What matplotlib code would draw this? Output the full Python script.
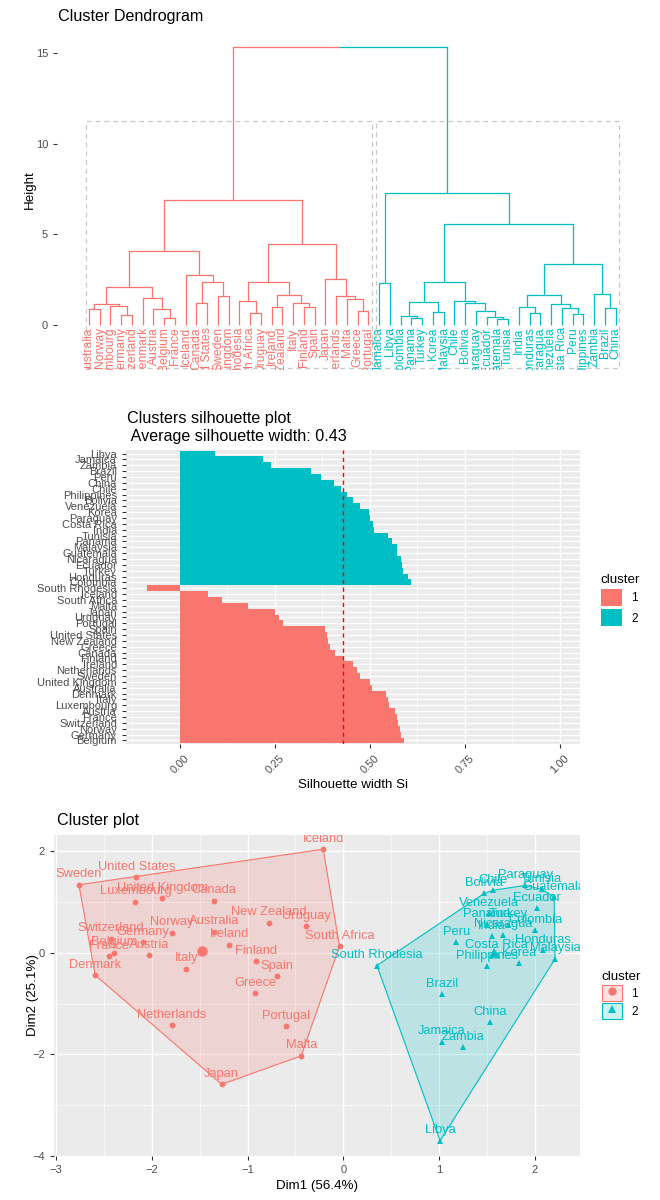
import numpy as np
import matplotlib
matplotlib.use("Agg")
import matplotlib.pyplot as plt
from matplotlib.patches import Rectangle, Polygon, Patch
from matplotlib.lines import Line2D
from matplotlib.legend_handler import HandlerTuple

plt.rcParams['font.family'] = ['Liberation Sans', 'DejaVu Sans']

RED = '#F8766D'
CYAN = '#00BFC4'
BG = '#EBEBEB'
TXT = '#4D4D4D'
TCK = '#333333'
COLORS = {1: RED, 2: CYAN}

# ---------------- Dendrogram data ----------------
leaf_order = ['Australia', 'Norway', 'Luxembourg', 'Germany', 'Switzerland', 'Denmark',
              'Austria', 'Belgium', 'France', 'Iceland', 'Canada', 'United States',
              'Sweden', 'United Kingdom', 'South Rhodesia', 'South Africa', 'Uruguay',
              'Ireland', 'New Zealand', 'Italy', 'Finland', 'Spain', 'Japan',
              'Netherlands', 'Malta', 'Greece', 'Portugal',
              'Jamaica', 'Libya', 'Colombia', 'Panama', 'Turkey', 'Korea', 'Malaysia',
              'Chile', 'Bolivia', 'Paraguay', 'Ecuador', 'Guatemala', 'Tunisia', 'India',
              'Honduras', 'Nicaragua', 'Venezuela', 'Costa Rica', 'Peru', 'Philippines',
              'Zambia', 'Brazil', 'China']
leaf_cluster = [1] * 27 + [2] * 23

# (left, right, height); integers refer to earlier merges
merges = [
    ('Australia', 'Norway', 0.86),          # 0
    ('Germany', 'Switzerland', 0.55),       # 1
    ('Luxembourg', 1, 1.07),                # 2
    (0, 2, 1.16),                           # 3
    ('Belgium', 'France', 0.40),            # 4
    ('Austria', 4, 0.86),                   # 5
    ('Denmark', 5, 1.47),                   # 6
    (3, 6, 2.11),                           # 7
    ('Canada', 'United States', 1.19),      # 8
    ('Sweden', 'United Kingdom', 1.62),     # 9
    (8, 9, 2.39),                           # 10
    ('Iceland', 10, 2.76),                  # 11
    (7, 11, 4.06),                          # 12
    ('South Africa', 'Uruguay', 0.68),      # 13
    ('South Rhodesia', 13, 1.34),           # 14
    ('Ireland', 'New Zealand', 1.01),       # 15
    ('Finland', 'Spain', 1.01),             # 16
    ('Italy', 16, 1.19),                    # 17
    (15, 17, 1.65),                         # 18
    (14, 18, 2.39),                         # 19
    ('Greece', 'Portugal', 0.79),           # 20
    ('Malta', 20, 1.42),                    # 21
    ('Netherlands', 21, 1.60),              # 22
    ('Japan', 22, 2.52),                    # 23
    (19, 23, 4.47),                         # 24
    (12, 24, 6.92),                         # 25
    ('Jamaica', 'Libya', 2.33),             # 26
    ('Panama', 'Turkey', 0.37),             # 27
    ('Colombia', 27, 0.51),                 # 28
    ('Korea', 'Malaysia', 0.70),            # 29
    (28, 29, 1.29),                         # 30
    ('Guatemala', 'Tunisia', 0.31),         # 31
    ('Ecuador', 31, 0.46),                  # 32
    ('Paraguay', 32, 0.79),                 # 33
    ('Bolivia', 33, 1.23),                  # 34
    ('Chile', 34, 1.34),                    # 35
    (30, 35, 2.39),                         # 36
    ('Honduras', 'Nicaragua', 0.64),        # 37
    ('India', 37, 0.98),                    # 38
    ('Peru', 'Philippines', 0.59),          # 39
    ('Costa Rica', 39, 0.92),               # 40
    ('Venezuela', 40, 1.14),                # 41
    (38, 41, 1.65),                         # 42
    ('Brazil', 'China', 0.92),              # 43
    ('Zambia', 43, 1.71),                   # 44
    (42, 44, 3.35),                         # 45
    (36, 45, 5.55),                         # 46
    (26, 46, 7.26),                         # 47
    (25, 47, 15.33),                        # 48
]
rect_top = 11.27
dend_yticks = [0, 5, 10, 15]

# ---------------- Silhouette data (top to bottom) ----------------
sil_names = ['Libya', 'Jamaica', 'Zambia', 'Brazil', 'Peru', 'China', 'Chile', 'Philippines',
             'Bolivia', 'Venezuela', 'Korea', 'Paraguay', 'Costa Rica', 'India', 'Tunisia',
             'Panama', 'Malaysia', 'Guatemala', 'Nicaragua', 'Ecuador', 'Turkey', 'Honduras',
             'Colombia',
             'South Rhodesia', 'Iceland', 'South Africa', 'Malta', 'Japan', 'Uruguay',
             'Portugal', 'Spain', 'United States', 'New Zealand', 'Greece', 'Canada',
             'Finland', 'Ireland', 'Netherlands', 'Sweden', 'United Kingdom', 'Australia',
             'Denmark', 'Italy', 'Luxembourg', 'Austria', 'France', 'Switzerland', 'Norway',
             'Germany', 'Belgium']
sil_values = [0.092, 0.219, 0.239, 0.346, 0.371, 0.405, 0.425, 0.441, 0.456, 0.474,
              0.497, 0.500, 0.507, 0.511, 0.548, 0.559, 0.570, 0.572, 0.583, 0.585,
              0.588, 0.599, 0.607,
              -0.086, 0.075, 0.112, 0.178, 0.250, 0.261, 0.272, 0.382, 0.386, 0.390,
              0.396, 0.408, 0.432, 0.456, 0.467, 0.474, 0.500, 0.506, 0.542, 0.548,
              0.551, 0.566, 0.570, 0.573, 0.579, 0.583, 0.590]
sil_cluster = [2] * 23 + [1] * 27
sil_avg = 0.43
sil_xticks = [0.0, 0.25, 0.5, 0.75, 1.0]

# ---------------- Cluster plot data ----------------
pca_names = ['Iceland', 'Sweden', 'United States', 'United Kingdom', 'Luxembourg', 'Canada',
             'New Zealand', 'Uruguay', 'South Africa', 'Norway', 'Australia', 'Ireland',
             'Switzerland', 'Belgium', 'France', 'Germany', 'Austria', 'Denmark', 'Italy',
             'Finland', 'Spain', 'Greece', 'Netherlands', 'Portugal', 'Malta', 'Japan',
             'South Rhodesia', 'Bolivia', 'Chile', 'Paraguay', 'Tunisia', 'Guatemala',
             'Ecuador', 'Venezuela', 'Panama', 'Turkey', 'Nicaragua', 'India', 'Colombia',
             'Peru', 'Costa Rica', 'Philippines', 'Korea', 'Honduras', 'Malaysia', 'Brazil',
             'China', 'Jamaica', 'Zambia', 'Libya']
dim1 = [-0.21, -2.76, -2.16, -1.89, -2.17, -1.35, -0.78, -0.39, -0.04, -1.79, -1.35, -1.19,
        -2.43, -2.39, -2.45, -2.09, -2.03, -2.59, -1.64, -0.91, -0.69, -0.92, -1.79, -0.60,
        -0.44, -1.27,
        0.35, 1.47, 1.56, 1.90, 2.07, 2.20, 2.02, 1.52, 1.50, 1.72, 1.67, 1.55, 2.00,
        1.18, 1.60, 1.50, 1.83, 2.08, 2.21, 1.03, 1.53, 1.03, 1.25, 1.01]
dim2 = [2.04, 1.34, 1.49, 1.07, 1.01, 1.03, 0.59, 0.52, 0.13, 0.40, 0.42, 0.16,
        0.28, 0.00, -0.07, 0.21, -0.05, -0.44, -0.31, -0.17, -0.46, -0.79, -1.42, -1.45,
        -2.03, -2.59,
        -0.25, 1.17, 1.23, 1.33, 1.25, 1.10, 0.88, 0.78, 0.55, 0.55, 0.36, 0.33, 0.44,
        0.21, -0.05, -0.26, -0.20, 0.05, -0.12, -0.82, -1.37, -1.75, -1.86, -3.70]
pca_cluster = [1] * 26 + [2] * 24
pca_xticks = [-3, -2, -1, 0, 1, 2]
pca_yticks = [-4, -2, 0, 2]

# ---------------- Figure ----------------
W, H = 660, 1200
fig = plt.figure(figsize=(W / 100, H / 100), dpi=100)


def box(l, t, r, b):
    return [l / W, 1 - b / H, (r - l) / W, (b - t) / H]


def fx(x):
    return x / W


def fy(y):
    return 1 - y / H


def gg_ticks(ax):
    ax.tick_params(colors=TCK, labelcolor=TXT, labelsize=8, length=3, width=0.8)


# ===== Panel 1: dendrogram =====
ax1 = fig.add_axes(box(57, 38, 650, 370))
pos = {n: i + 1 for i, n in enumerate(leaf_order)}
clus = dict(zip(leaf_order, leaf_cluster))
node_x, node_h, node_c = [], [], []


def child(ref):
    if isinstance(ref, str):
        return pos[ref], 0.0, clus[ref]
    return node_x[ref], node_h[ref], node_c[ref]


LW = 0.9
for a, b, h in merges:
    xa, ha, ca = child(a)
    xb, hb, cb = child(b)
    xm = (xa + xb) / 2
    ax1.plot([xa, xa], [ha, h], color=COLORS[ca], lw=LW, solid_capstyle='butt')
    ax1.plot([xb, xb], [hb, h], color=COLORS[cb], lw=LW, solid_capstyle='butt')
    if ca == cb:
        ax1.plot([xa, xb], [h, h], color=COLORS[ca], lw=LW)
    else:
        ax1.plot([xa, xm], [h, h], color=COLORS[ca], lw=LW)
        ax1.plot([xm, xb], [h, h], color=COLORS[cb], lw=LW)
    node_x.append(xm)
    node_h.append(h)
    node_c.append(ca)

for n in leaf_order:
    ax1.text(pos[n], -0.12, n, rotation=90, ha='center', va='top', fontsize=8.7,
             color=COLORS[clus[n]], clip_on=True)

for k in (1, 2):
    idx = [pos[n] for n in leaf_order if clus[n] == k]
    x0, x1 = min(idx) - 0.3, max(idx) + 0.35
    ax1.add_patch(Rectangle((x0, -2.38), x1 - x0, rect_top + 2.38, fill=False,
                            edgecolor='#C8C8C8', lw=0.9, ls=(0, (4, 3))))

ax1.set_xlim(1 - (89 - 57) / 10.75, 50 + (650 - 615.7) / 10.75)
ax1.set_ylim(-2.48, 15.83)
ax1.set_yticks(dend_yticks)
ax1.set_xticks([])
for s in ax1.spines.values():
    s.set_visible(False)
gg_ticks(ax1)
fig.text(fx(58), fy(17), 'Cluster Dendrogram', fontsize=11.6, ha='left', va='center')
fig.text(fx(30), fy(190), 'Height', fontsize=9.6, rotation=90, ha='center', va='center')

# ===== Panel 2: silhouette =====
ax2 = fig.add_axes(box(126, 450, 580, 744))
ax2.set_facecolor(BG)
n_s = len(sil_names)
ypos = np.arange(n_s, 0, -1)
ax2.set_axisbelow(True)
ax2.barh(ypos, sil_values, height=1.0, color=[COLORS[c] for c in sil_cluster], lw=0)
ax2.axvline(sil_avg, color='#FF0000', ls=(0, (3, 2.5)), lw=1.0)
ax2.set_xlim(-0.142, 1.053)
ax2.set_ylim(0.4, n_s + 0.6)
ax2.set_yticks(ypos)
ax2.set_yticklabels(sil_names)
ax2.set_xticks(sil_xticks)
ax2.set_xticklabels(['%.2f' % v for v in sil_xticks], rotation=45, ha='center', va='top')
ax2.set_xticks([-0.125, 0.125, 0.375, 0.625, 0.875], minor=True)
ax2.grid(True, which='major', color='white', lw=1.0)
ax2.grid(True, which='minor', axis='x', color='white', lw=0.5)
ax2.tick_params(which='minor', length=0)
for s in ax2.spines.values():
    s.set_visible(False)
gg_ticks(ax2)
fig.text(fx(127), fy(418), 'Clusters silhouette plot', fontsize=11.6, ha='left', va='center')
fig.text(fx(127), fy(436), ' Average silhouette width: 0.43', fontsize=11.6, ha='left', va='center')
fig.text(fx(353), fy(785), 'Silhouette width Si', fontsize=9.6, ha='center', va='center')
fig.legend(handles=[Patch(facecolor=RED), Patch(facecolor=CYAN)], labels=['1', '2'],
           title='cluster', loc='upper left', bbox_to_anchor=(fx(590), fy(563)),
           frameon=False, fontsize=8.5, title_fontsize=9.6, handlelength=1.8,
           handleheight=1.8, labelspacing=0.3, handletextpad=0.8, alignment='left')

# ===== Panel 3: cluster plot =====
ax3 = fig.add_axes(box(54, 835, 580, 1156))
ax3.set_facecolor(BG)
ax3.set_axisbelow(True)
d1 = np.array(dim1)
d2 = np.array(dim2)
cl = np.array(pca_cluster)


def convex_hull(pts):
    pts = sorted(map(tuple, pts))

    def cross(o, a, b):
        return (a[0] - o[0]) * (b[1] - o[1]) - (a[1] - o[1]) * (b[0] - o[0])
    lower, upper = [], []
    for p in pts:
        while len(lower) >= 2 and cross(lower[-2], lower[-1], p) <= 0:
            lower.pop()
        lower.append(p)
    for p in reversed(pts):
        while len(upper) >= 2 and cross(upper[-2], upper[-1], p) <= 0:
            upper.pop()
        upper.append(p)
    return lower[:-1] + upper[:-1]


markers = {1: 'o', 2: '^'}
for k in (1, 2):
    m = cl == k
    hull = convex_hull(np.column_stack([d1[m], d2[m]]))
    ax3.add_patch(Polygon(hull, closed=True, facecolor=COLORS[k], alpha=0.2, lw=0))
    ax3.add_patch(Polygon(hull, closed=True, fill=False, edgecolor=COLORS[k], lw=0.8))
    ax3.plot(d1[m], d2[m], ls='none', marker=markers[k], color=COLORS[k], ms=4.2, mew=0)
    ax3.plot([d1[m].mean()], [d2[m].mean()], ls='none', marker=markers[k],
             color=COLORS[k], ms=7.5, mew=0)

for n, x, y, k in zip(pca_names, d1, d2, cl):
    ax3.annotate(n, (x, y), xytext=(0, 3.2), textcoords='offset points', ha='center',
                 va='bottom', fontsize=9.3, color=COLORS[k], annotation_clip=False,
                 clip_on=True)

ax3.set_xlim(-3.02, 2.47)
ax3.set_ylim(-3.98, 2.32)
ax3.set_xticks(pca_xticks)
ax3.set_yticks(pca_yticks)
ax3.set_xticks([-2.5, -1.5, -0.5, 0.5, 1.5], minor=True)
ax3.set_yticks([-3, -1, 1], minor=True)
ax3.grid(True, which='major', color='white', lw=1.0)
ax3.grid(True, which='minor', color='white', lw=0.5)
ax3.tick_params(which='minor', length=0)
for s in ax3.spines.values():
    s.set_visible(False)
gg_ticks(ax3)
fig.text(fx(57), fy(820), 'Cluster plot', fontsize=11.6, ha='left', va='center')
fig.text(fx(317), fy(1186), 'Dim1 (56.4%)', fontsize=9.6, ha='center', va='center')
fig.text(fx(33), fy(995), 'Dim2 (25.1%)', fontsize=9.6, rotation=90, ha='center', va='center')

h1 = (Patch(facecolor=(0.973, 0.463, 0.427, 0.2), edgecolor=RED, lw=0.8),
      Line2D([], [], ls='none', marker='o', color=RED, ms=6, mew=0))
h2 = (Patch(facecolor=(0.0, 0.749, 0.769, 0.2), edgecolor=CYAN, lw=0.8),
      Line2D([], [], ls='none', marker='^', color=CYAN, ms=6, mew=0))
fig.legend(handles=[h1, h2], labels=['1', '2'], title='cluster', loc='upper left',
           bbox_to_anchor=(fx(591), fy(960)), frameon=False, fontsize=8.5,
           title_fontsize=9.6, handlelength=1.7, handleheight=1.7, labelspacing=0.2,
           handletextpad=0.8, alignment='left',
           handler_map={tuple: HandlerTuple(ndivide=1, pad=0)})

fig.savefig('out.png', dpi=100)
